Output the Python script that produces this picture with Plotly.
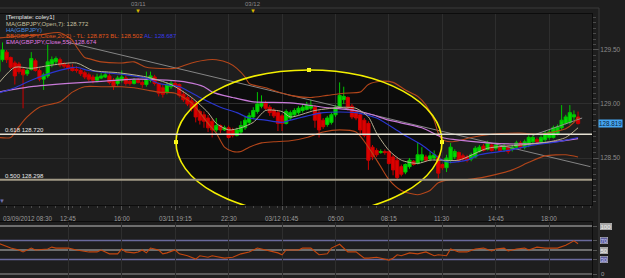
import plotly.graph_objects as go

W, H = 625, 278

# ---------------- data ----------------
idx = list(range(142))
opens = [129.30,129.41,129.48,129.43,129.38,129.37,129.32,129.28,129.32,129.40,
         129.31,129.23,129.26,129.37,129.39,129.41,129.37,129.36,129.34,129.32,
         129.31,129.29,129.27,129.25,129.22,129.24,129.25,129.26,129.22,129.19,
         129.22,129.24,129.21,129.19,129.22,129.20,129.18,129.22,129.25,129.19,
         129.15,129.11,129.16,129.19,129.18,129.09,129.06,129.03,129.01,128.93,
         128.90,128.87,128.84,128.76,128.80,128.76,128.78,128.76,128.71,128.74,
         128.78,128.83,128.88,128.93,128.98,129.01,128.97,128.94,128.92,128.89,
         128.82,128.87,128.90,128.92,128.94,128.95,128.96,128.97,128.92,128.85,
         128.81,128.83,128.90,128.97,129.04,129.06,128.98,128.93,128.90,128.85,
         128.82,128.60,128.57,128.55,128.56,128.56,128.51,128.48,128.42,128.37,
         128.42,128.47,128.45,128.48,128.51,128.49,128.50,128.51,128.44,128.41,
         128.48,128.51,128.55,128.52,128.51,128.49,128.51,128.56,128.61,128.58,
         128.62,128.59,128.60,128.58,128.60,128.58,128.60,128.64,128.60,128.62,
         128.65,128.67,128.65,128.67,128.69,128.69,128.73,128.78,128.82,128.83,
         128.88,128.88]
closes = [129.45,129.50,129.41,129.34,129.26,129.30,129.27,129.31,129.42,129.31,
          129.23,129.27,129.39,129.41,129.42,129.36,129.35,129.33,129.31,129.31,
          129.28,129.25,129.23,129.22,129.25,129.26,129.27,129.20,129.17,129.24,
          129.25,129.19,129.19,129.22,129.20,129.18,129.23,129.26,129.19,129.10,
          129.09,129.18,129.19,129.17,129.08,129.04,129.00,128.96,128.88,128.85,
          128.84,128.78,128.76,128.80,128.76,128.78,128.69,128.71,128.76,128.80,
          128.85,128.89,128.94,129.00,129.01,128.96,128.92,128.89,128.82,128.82,
          128.93,128.92,128.94,128.96,128.97,128.99,128.99,128.85,128.76,128.79,
          128.87,128.90,128.97,129.08,129.07,128.96,128.88,128.87,128.76,128.71,
          128.48,128.51,128.53,128.56,128.55,128.45,128.39,128.32,128.35,128.44,
          128.48,128.44,128.53,128.53,128.48,128.52,128.53,128.36,128.41,128.50,
          128.60,128.56,128.48,128.49,128.48,128.53,128.59,128.60,128.57,128.64,
          128.57,128.62,128.57,128.61,128.56,128.60,128.64,128.60,128.65,128.69,
          128.69,128.65,128.69,128.73,128.74,128.78,128.79,128.85,128.88,128.92,
          128.90,128.82]
highs = [129.55,129.57,129.50,129.44,129.40,129.39,129.34,129.33,129.48,129.42,
         129.33,129.29,129.55,129.44,129.44,129.43,129.39,129.38,129.37,129.35,
         129.33,129.31,129.29,129.27,129.28,129.29,129.30,129.29,129.24,129.26,
         129.31,129.26,129.23,129.24,129.24,129.22,129.30,129.30,129.27,129.20,
         129.18,129.20,129.22,129.21,129.19,129.12,129.08,129.06,129.03,128.95,
         128.93,128.90,128.87,128.87,128.81,128.80,128.80,128.78,128.78,128.84,
         128.88,128.92,128.97,129.11,129.08,129.03,128.99,128.96,128.94,128.91,
         128.95,128.94,128.96,128.98,129.00,129.02,129.04,128.99,128.94,128.87,
         128.89,128.92,128.99,129.20,129.16,129.07,129.00,128.94,128.92,128.87,
         128.84,128.62,128.59,128.58,128.58,128.57,128.53,128.50,128.44,128.45,
         128.50,128.48,128.64,128.60,128.53,128.56,128.57,128.53,128.45,128.53,
         128.64,128.58,128.56,128.54,128.53,128.55,128.61,128.62,128.63,128.66,
         128.64,128.64,128.62,128.63,128.62,128.62,128.66,128.66,128.67,128.71,
         128.71,128.69,128.71,128.75,128.76,128.80,128.81,128.99,128.90,128.99,
         128.94,128.93]
lows = [129.28,129.39,129.38,129.32,129.18,129.28,128.96,129.26,129.31,129.30,
        129.21,129.13,129.24,129.34,129.36,129.34,129.33,129.31,129.30,129.29,
        129.26,129.23,129.21,129.19,129.20,129.23,129.24,129.18,129.13,129.17,
        129.20,129.17,129.17,129.18,129.19,129.15,129.16,129.20,129.17,129.07,
        129.06,129.09,129.14,129.15,129.06,129.02,128.98,128.93,128.83,128.81,
        128.78,128.74,128.69,128.74,128.73,128.75,128.68,128.69,128.70,128.72,
        128.76,128.81,128.86,128.91,128.96,128.94,128.89,128.87,128.75,128.75,
        128.81,128.85,128.88,128.90,128.92,128.94,128.94,128.78,128.69,128.77,
        128.79,128.81,128.88,128.96,129.00,128.94,128.86,128.85,128.71,128.69,
        128.39,128.48,128.51,128.54,128.53,128.44,128.34,128.30,128.33,128.35,
        128.40,128.43,128.44,128.46,128.47,128.47,128.48,128.31,128.39,128.37,
        128.45,128.49,128.46,128.47,128.46,128.47,128.50,128.55,128.56,128.57,
        128.56,128.57,128.56,128.56,128.54,128.56,128.58,128.58,128.58,128.60,
        128.63,128.63,128.64,128.65,128.67,128.68,128.71,128.76,128.81,128.81,
        128.85,128.81]

bb_up_x = [0,5,10,15,18,19,21,22,25,30,33,36,43,47,51,53,56,58,60,61,65,71,76,80,84,88,90,93,96,99,
           102,104,106,107,108,110,112,115,120,127,132,135,138,140,141]
bb_up = [129.61,129.63,129.64,129.66,129.59,129.53,129.43,129.42,129.39,129.38,
         129.39,129.34,129.33,129.38,129.41,129.41,129.38,129.33,129.25,129.19,
         129.15,129.08,129.06,129.08,129.10,129.11,129.18,129.21,129.20,129.13,
         129.07,128.99,128.85,128.73,128.67,128.65,128.66,128.69,128.72,128.73,
         128.72,128.74,128.77,128.83,128.88]
bb_lo_x = [0,3,5,7,10,15,18,21,25,30,33,36,39,43,47,51,53,55,57,59,61,64,67,71,75,79,83,87,90,93,
           95,98,102,105,107,110,114,119,125,129,133,138,141]
bb_lo = [128.69,128.69,128.79,128.88,128.97,129.02,129.11,129.16,129.16,129.16,
         129.15,129.13,129.11,129.10,129.01,128.82,128.73,128.60,128.56,128.56,
         128.60,128.64,128.65,128.66,128.69,128.74,128.76,128.74,128.60,128.42,
         128.30,128.20,128.16,128.20,128.27,128.30,128.30,128.33,128.39,128.46,
         128.52,128.53,128.51]
bb_mid_x = [0,4,8,13,17,19,22,26,31,36,39,44,49,54,58,61,65,69,71,79,87,92,98,103,108,110,114,117,124,130,136,141]
bb_mid = [129.10,129.15,129.22,129.29,129.33,129.34,129.31,129.29,129.27,129.24,
          129.19,129.16,129.06,128.97,128.92,128.87,128.85,128.83,128.85,128.92,
          128.92,128.87,128.73,128.62,128.48,128.46,128.48,128.53,128.57,128.62,
          128.65,128.69]
ema_x = [0,8,17,25,33,41,46,50,52,57,62,71,79,87,91,95,103,108,111,119,127,135,141]
ema = [129.11,129.16,129.19,129.21,129.23,129.22,129.20,129.16,129.11,129.06,
       129.02,129.01,128.97,128.94,128.90,128.85,128.78,128.69,128.67,128.64,
       128.63,128.65,128.68]
ma7_x = [0,4,8,13,19,23,29,36,42,47,51,53,56,59,62,65,69,71,77,84,87,90,92,95,98,102,105,108,112,119,127,134,138,141]
ma7 = [129.19,129.34,129.33,129.36,129.38,129.31,129.29,129.25,129.18,129.06,
       128.92,128.82,128.76,128.78,128.83,128.94,128.93,128.88,128.94,128.97,
       128.96,128.88,128.73,128.57,128.48,128.45,128.48,128.48,128.48,128.59,
       128.62,128.65,128.69,128.78]
trend_x = [17, 144]
trend_y = [129.57, 128.42]
chan_x = [130, 142]
chan_y = [128.71, 128.87]

rsi_x = [0,3,5,6,8,9,12,13,14,17,19,22,24,25,27,29,30,31,33,34,35,36,37,39,40,41,43,44,46,48,
         49,51,52,55,57,59,61,63,64,66,68,69,70,73,74,76,78,80,81,83,85,87,89,90,92,95,96,97,98,100,
         102,104,106,107,109,110,112,114,116,118,120,121,123,124,126,128,129,131,133,136,138,140,141]
rsi = [64,54,50,46,54,50,52,56,54,54,50,46,46,50,42,42,52,46,44,46,50,44,54,50,42,44,50,42,38,31,
       38,35,38,33,35,42,46,54,52,48,44,40,50,50,54,54,40,42,54,62,46,46,33,33,35,29,33,40,38,44,
       42,46,38,40,38,52,46,46,52,54,48,52,54,48,52,54,50,56,54,54,60,69,63]
rsi_levels = [100, 70, 50, 30, 0]
rsi_level_labels = ["100", "70", "50", "30", "0"]

fib_levels = [128.720, 128.298]
fib_labels = ["0.618 128.720", "0.500 128.298"]

time_ticks = [0, 17, 30, 43, 56, 69, 82, 95, 108, 121, 134]
time_text = ["03/09/2012 08:30", "12:45", "16:00", "03/11 19:15", "22:30", "03/12 01:45",
             "05:00", "08:15", "11:30", "14:45", "18:00"]
date_ticks = [34, 62]
date_text = ["03/11", "03/12"]
price_ticks = [128.5, 129.0, 129.5]
price_text = ["128.50", "129.00", "129.50"]
last_price = 128.819

ell_x0, ell_x1 = 43.2, 107.9
ell_y0, ell_y1 = 127.98, 129.315

# ---------------- layout geometry ----------------
XR = [0.39, 144.39]
XD = [0, 592 / W]
def fy(py):
    return (H - py) / H
MAIN_D = [fy(205), fy(14)]
RSI_D = [0, fy(222)]
FONT = "Liberation Sans"
BG = "#1e1e1e"
GRID = "#2e2e2e"

fig = go.Figure()

fig.add_trace(go.Candlestick(
    x=idx, open=opens, high=highs, low=lows, close=closes,
    increasing=dict(line=dict(color="#00c400", width=1), fillcolor="#00dc00"),
    decreasing=dict(line=dict(color="#cc0000", width=1), fillcolor="#dd0000"),
    whiskerwidth=0, showlegend=False, hoverinfo="skip", xaxis="x", yaxis="y"))

def line(x, y, color, width=1.0, spline=True, xa="x", ya="y"):
    fig.add_trace(go.Scatter(
        x=x, y=y, mode="lines", showlegend=False, hoverinfo="skip",
        line=dict(color=color, width=width, shape="spline" if spline else "linear", smoothing=0.7),
        xaxis=xa, yaxis=ya))

line(trend_x, trend_y, "#858585", 1, False)
line(chan_x, chan_y, "#909090", 1, False)
line(bb_up_x, bb_up, "#b4461a", 1.1)
line(bb_lo_x, bb_lo, "#b4461a", 1.1)
line(ema_x, ema, "#c87ad8", 1.2)
line(bb_mid_x, bb_mid, "#2a36d0", 1.2)
line(ma7_x, ma7, "#b8b092", 1)
line(rsi_x, rsi, "#c4470f", 1.1, False, "x2", "y2")

# ellipse handles
ex_mid = (ell_x0 + ell_x1) / 2
ey_mid = (ell_y0 + ell_y1) / 2
fig.add_trace(go.Scatter(
    x=[ex_mid, ell_x0, ell_x1], y=[ell_y1, ey_mid, ey_mid], mode="markers",
    marker=dict(symbol="square", size=4, color="#ffff30"), showlegend=False,
    hoverinfo="skip", xaxis="x", yaxis="y"))

shapes = []
shapes.append(dict(type="circle", xref="x", yref="y", x0=ell_x0, x1=ell_x1, y0=ell_y0, y1=ell_y1,
                   fillcolor="rgba(0,0,0,0.6)", line=dict(width=0), layer="below"))
shapes.append(dict(type="circle", xref="x", yref="y", x0=ell_x0, x1=ell_x1, y0=ell_y0, y1=ell_y1,
                   line=dict(color="#f4f000", width=1.6), layer="above"))
fib_cols = ["#e6e2d4", "#a29a86"]
fib_w = [1.6, 2]
for lv, c, w in zip(fib_levels, fib_cols, fib_w):
    shapes.append(dict(type="line", xref="paper", yref="y", x0=0, x1=XD[1], y0=lv, y1=lv,
                       line=dict(color=c, width=w), layer="above"))
rsi_cols = ["#8a8a8a", "#6a6a9c", "#8a8a8a", "#6a6a9c", "#707070"]
for lv, c in zip(rsi_levels, rsi_cols):
    shapes.append(dict(type="line", xref="paper", yref="y2", x0=0, x1=XD[1], y0=lv, y1=lv,
                       line=dict(color=c, width=1.5), layer="below"))
shapes.append(dict(type="line", xref="paper", yref="paper", x0=0, x1=599 / W, y0=fy(8), y1=fy(8),
                   line=dict(color="#3a3a3a", width=1)))
shapes.append(dict(type="line", xref="paper", yref="paper", x0=599 / W, x1=599 / W, y0=0, y1=fy(8),
                   line=dict(color="#3a3a3a", width=1)))

ann = []
tf = dict(family=FONT, size=6.3, color="#9a9a9a")
for t, s in zip(time_ticks, time_text):
    ann.append(dict(x=t if t > 0 else XR[0] + 0.2, y=fy(218), xref="x", yref="paper", text=s,
                    showarrow=False, xanchor="left" if t == 0 else "center", yanchor="middle", font=tf))
for t, s in zip(date_ticks, date_text):
    ann.append(dict(x=t, y=fy(4), xref="x", yref="paper", text=s, showarrow=False,
                    yanchor="middle", font=dict(family=FONT, size=6, color="#8a8a8a")))
    ann.append(dict(x=t, y=fy(11), xref="x", yref="paper", text="▼", showarrow=False,
                    yanchor="middle", font=dict(family=FONT, size=6, color="#d8b800")))
ann.append(dict(x=XR[0] + 0.6, y=fy(201), xref="x", yref="paper", text="▼", showarrow=False,
                yanchor="middle", font=dict(family=FONT, size=6, color="#7070b0")))
for lv, s in zip(fib_levels, fib_labels):
    ann.append(dict(x=3 / W, y=lv, xref="paper", yref="y", text=s, showarrow=False,
                    xanchor="left", yanchor="bottom", yshift=-1,
                    font=dict(family=FONT, size=6, color="#e8e8e8")))
leg = [
    ("[Template: coley1]", "#e8e8e8", 17),
    ("MA(GBPJPY,Open,7): 128.772", "#c8c0a0", 24),
    ("HA(GBPJPY)", "#4a8ee0", 30),
    ("BB(GBPJPY,Close,20,2) - TL: 128.873 BL: 128.502 <span style='color:#3a3ae8'>AL: 128.687</span>", "#e0561a", 36),
    ("EMA(GBPJPY,Close,55): 128.674", "#e27ae2", 42),
]
for s, c, py in leg:
    ann.append(dict(x=4 / W, y=fy(py), xref="paper", yref="paper", text=s, showarrow=False,
                    xanchor="left", yanchor="middle", font=dict(family=FONT, size=6, color=c)))
ann.append(dict(x=598 / W, y=last_price, xref="paper", yref="y", text=f"{last_price:.3f}",
                showarrow=False, xanchor="left", yanchor="middle", bgcolor="#46a6f2",
                borderpad=0, font=dict(family=FONT, size=6.3, color="#0c2238")))
rbg = ["#a8a8a8", "#5e5ea0", "#a8a8a8", "#5e5ea0", None]
rfc = ["#f0f0f0", "#c8c8f0", "#f0f0f0", "#c8c8f0", "#a0a0a0"]
for lv, s, b, fc in zip(rsi_levels, rsi_level_labels, rbg, rfc):
    d = dict(x=600 / W, y=lv, xref="paper", yref="y2", text=s, showarrow=False,
             xanchor="left", yanchor="middle", borderpad=0,
             font=dict(family=FONT, size=6, color=fc))
    if b:
        d["bgcolor"] = b
        d["bordercolor"] = "#c8c8c8"
        d["borderwidth"] = 0.5
    ann.append(d)

grid_ticks = time_ticks[1:]
fig.update_layout(
    width=W, height=H, margin=dict(l=0, r=0, t=0, b=0),
    paper_bgcolor=BG, plot_bgcolor=BG, showlegend=False,
    boxgap=0.22, boxgroupgap=0,
    shapes=shapes, annotations=ann,
    xaxis=dict(domain=XD, range=XR, anchor="y", rangeslider=dict(visible=False),
               tickmode="array", tickvals=grid_ticks, showticklabels=False,
               showgrid=True, gridcolor=GRID, gridwidth=1, zeroline=False,
               ticks="outside", ticklen=4, tickcolor="#555555",
               minor=dict(tickmode="linear", tick0=0, dtick=2, ticks="outside", ticklen=2,
                          tickcolor="#4a4a4a", showgrid=False),
               showline=True, linecolor="#0c0c0c", mirror=True),
    yaxis=dict(domain=MAIN_D, range=[128.065, 129.833], anchor="x", side="right",
               tickmode="array", tickvals=price_ticks, ticktext=price_text,
               tickfont=dict(family=FONT, size=6.5, color="#8c8c8c"),
               showgrid=True, gridcolor=GRID, zeroline=False,
               ticks="outside", ticklen=6, tickcolor="#555555",
               minor=dict(tickmode="linear", tick0=128.0, dtick=0.05, ticks="outside",
                          ticklen=3, tickcolor="#4a4a4a", showgrid=False),
               showline=True, linecolor="#0c0c0c", mirror=True),
    xaxis2=dict(domain=XD, range=XR, anchor="y2",
                tickmode="array", tickvals=grid_ticks, showticklabels=False,
                showgrid=True, gridcolor=GRID, zeroline=False, ticks="",
                showline=True, linecolor="#0c0c0c", mirror=True),
    yaxis2=dict(domain=RSI_D, range=[-8.33, 108.33], anchor="x2", side="right",
                showticklabels=False, showgrid=False, zeroline=False,
                tickmode="array", tickvals=rsi_levels, ticks="outside", ticklen=4,
                tickcolor="#555555", showline=True, linecolor="#0c0c0c", mirror=True),
)

fig.write_html("out.html")
